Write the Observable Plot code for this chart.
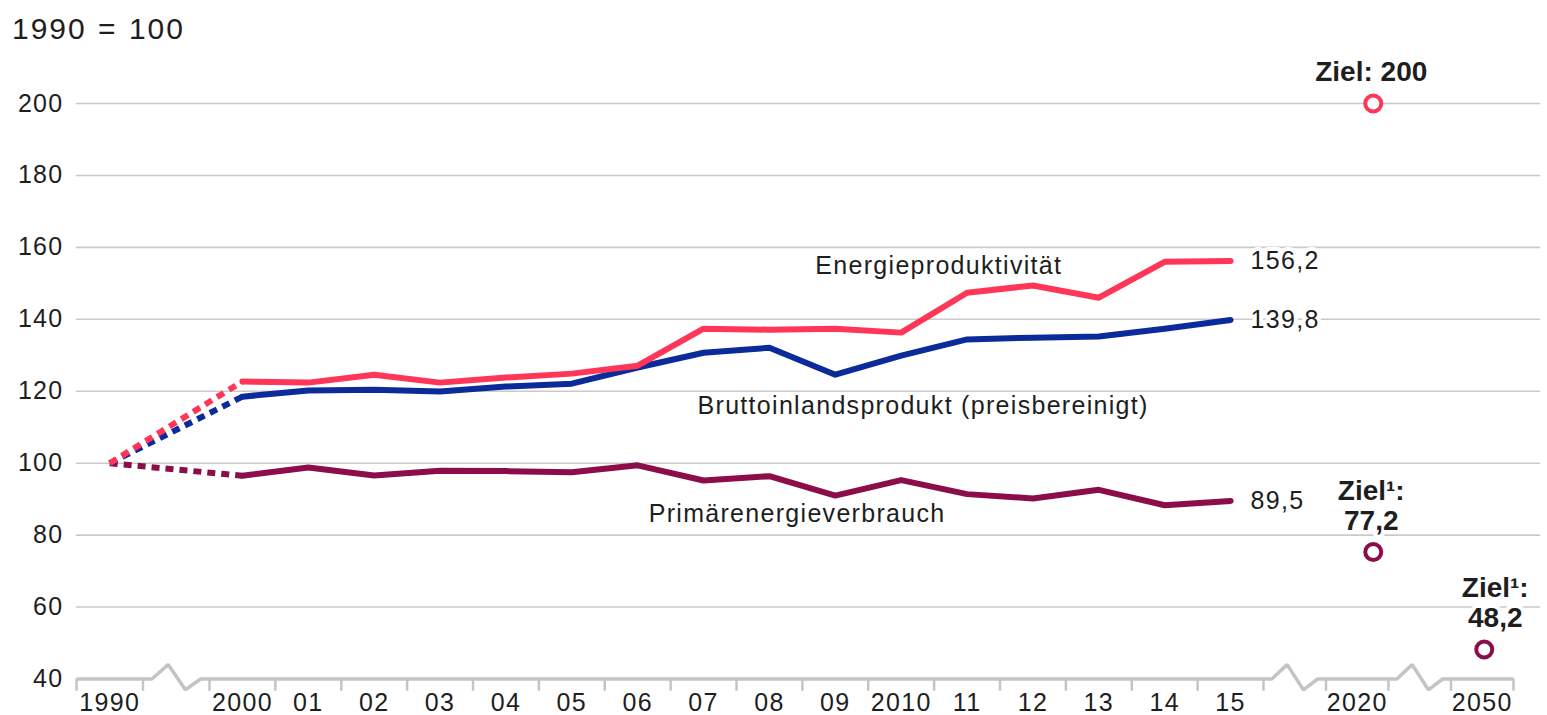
<!DOCTYPE html>
<html>
<head>
<meta charset="utf-8">
<script src="https://cdn.jsdelivr.net/npm/d3@7"></script>
<script src="https://cdn.jsdelivr.net/npm/@observablehq/plot@0.6"></script>
<style>
  body { margin: 0; background: #fff; font-family: "Liberation Sans", Arial, sans-serif; }
  #header { height: 48px; box-sizing: border-box; padding: 11px 0 0 12px; font-size: 30px; line-height: 36px; letter-spacing: 2px; word-spacing: 1px; color: #1e1e1e; }
  #chart svg text { letter-spacing: 1.3px; }
  #chart svg g[font-weight="bold"] text { letter-spacing: 0; }
</style>
</head>
<body>
<div id="header">1990 = 100</div>
<div id="chart"></div>
<script>
// x slots: categories incl. axis breaks
const slots = ["1990", "brk1", "2000", "01", "02", "03", "04", "05", "06", "07", "08", "09", "2010", "11", "12", "13", "14", "15", "brk2", "2020", "brk3", "2050"];
const breaks = ["brk1", "brk2", "brk3"];
const tickLabels = slots.filter(d => !breaks.includes(d));
const yTicks = [40, 60, 80, 100, 120, 140, 160, 180, 200];

// series (drawing order: bottom to top)
const seriesNames = ["Primärenergieverbrauch", "Bruttoinlandsprodukt (preisbereinigt)", "Energieproduktivität"];
const seriesColors = ["#8b0e4b", "#0c2b9b", "#ff3657"];
const baseYear = "1990";
const baseValue = 100;
const years = ["2000", "01", "02", "03", "04", "05", "06", "07", "08", "09", "2010", "11", "12", "13", "14", "15"];
const primaerenergie = [96.5, 98.8, 96.6, 97.9, 97.8, 97.5, 99.4, 95.2, 96.4, 91.0, 95.3, 91.4, 90.2, 92.6, 88.3, 89.5];
const bip = [118.5, 120.2, 120.4, 119.9, 121.3, 122.1, 126.6, 130.7, 132.1, 124.6, 129.9, 134.4, 134.9, 135.2, 137.4, 139.8];
const energieproduktivitaet = [122.7, 122.4, 124.6, 122.4, 123.8, 124.9, 127.1, 137.4, 137.1, 137.4, 136.3, 147.4, 149.4, 146.0, 156.0, 156.2];
const seriesValues = [primaerenergie, bip, energieproduktivitaet];

// targets
const targetSeries = ["Energieproduktivität", "Primärenergieverbrauch", "Primärenergieverbrauch"];
const targetCats = ["2020", "2020", "2050"];
const targetValues = [200, 75.3, 48.2];
const targetLines = [["Ziel: 200"], ["Ziel¹:", "77,2"], ["Ziel¹:", "48,2"]];

// in-chart series labels
const labelTexts = ["Primärenergieverbrauch", "Bruttoinlandsprodukt (preisbereinigt)", "Energieproduktivität"];
const labelCats = ["06", "07", "09"];
const labelValues = [86.0, 116.0, 154.7];
const labelShift = [11, -6, -20];

// ---- build tables ----
const slot = c => slots.indexOf(c);
const rows = [];
const dotRows = [];
seriesNames.forEach((s, i) => {
  years.forEach((c, j) => rows.push({series: s, cat: c, value: seriesValues[i][j]}));
  dotRows.push({series: s, cat: baseYear, value: baseValue});
  dotRows.push({series: s, cat: years[0], value: seriesValues[i][0]});
});
const endLabels = seriesNames.map((s, i) => {
  const v = seriesValues[i][seriesValues[i].length - 1];
  return {series: s, cat: years[years.length - 1], value: v, text: v.toFixed(1).replace(".", ",")};
});
const targets = targetSeries.map((s, i) => ({series: s, cat: targetCats[i], value: targetValues[i], lines: targetLines[i]}));
const targetText = [];
targets.forEach(t => t.lines.forEach((line, k) => targetText.push({cat: t.cat, value: t.value, text: line, k: t.lines.length - 1 - k})));
const seriesLabels = labelTexts.map((t, i) => ({text: t, cat: labelCats[i], value: labelValues[i], shift: labelShift[i]}));

// axis line with break symbols (shape offsets in slot / value units)
const zig = [[-0.367, 0], [-0.122, 4.0], [0.138, -3.0], [0.367, 0]];
const axisPts = [{x: -0.5, y: 40}];
breaks.forEach(b => zig.forEach(([ox, oy]) => axisPts.push({x: slot(b) + ox, y: 40 + oy})));
axisPts.push({x: slots.length - 0.5, y: 40});
const tickBounds = d3.range(-0.5, slots.length, 1);

const textColor = "#1e1e1e";
const gridColor = "#cacaca";

function targetTextMarks(cat, dx) {
  return [0, 1].map(k => Plot.text(targetText.filter(d => d.cat === cat && d.k === k), {
    x: d => slot(d.cat), y: "value", text: "text",
    dx, dy: k === 0 ? -31 : -61,
    fontWeight: "bold", fontSize: 28, fill: textColor,
    stroke: "white", strokeWidth: 8
  }));
}

const chart = Plot.plot({
  width: 1547,
  height: 667,
  marginLeft: 76,
  marginRight: 7,
  marginTop: 55,
  marginBottom: 36.5,
  x: {type: "linear", domain: [-0.5, 1.5, 17.5, 21.5, 21.91], range: [76, 209, 1263, 1513, 1540], axis: null},
  y: {domain: [40, 200], axis: null},
  color: {domain: seriesNames, range: seriesColors},
  style: {fontFamily: "'Liberation Sans', Arial, sans-serif", fontSize: "25px", color: textColor, background: "white"},
  marks: [
    Plot.ruleY(yTicks.filter(d => d > 40), {stroke: gridColor, strokeWidth: 1.6}),
    Plot.text(yTicks, {x: -0.5, y: d => d, text: d => String(d), textAnchor: "end", dx: -13, fill: textColor}),
    Plot.ruleX(tickBounds, {x: d => d, y1: 40, y2: 36.6, stroke: "#c4c4c4", strokeWidth: 2.5}),
    Plot.line(axisPts, {x: "x", y: "y", stroke: "#c4c4c4", strokeWidth: 3.5, strokeLinejoin: "miter", strokeLinecap: "butt"}),
    Plot.text(tickLabels, {x: slot, y: 40, text: d => d, dy: 24, fill: textColor}),
    Plot.line(dotRows, {x: d => slot(d.cat), y: "value", z: "series", stroke: "series", strokeWidth: 6, strokeDasharray: "8,6", strokeLinecap: "butt"}),
    Plot.line(rows, {x: d => slot(d.cat), y: "value", z: "series", stroke: "series", strokeWidth: 6, strokeLinecap: "round", strokeLinejoin: "round"}),
    Plot.text(endLabels, {x: d => slot(d.cat), y: "value", text: "text", textAnchor: "start", dx: 20, fill: textColor, stroke: "white", strokeWidth: 8}),
    ...seriesLabels.map(l => Plot.text([l], {x: d => slot(d.cat), y: "value", text: "text", textAnchor: "start", dx: l.shift, fill: textColor})),
    Plot.dot(targets.filter(d => d.cat === "2020"), {x: d => slot(d.cat), y: "value", r: 8, stroke: "series", strokeWidth: 4, fill: "white", dx: 16}),
    Plot.dot(targets.filter(d => d.cat === "2050"), {x: d => slot(d.cat), y: "value", r: 8, stroke: "series", strokeWidth: 4, fill: "white", dx: 2}),
    ...targetTextMarks("2020", 14),
    ...targetTextMarks("2050", 13)
  ]
});
document.getElementById("chart").appendChild(chart);
</script>
</body>
</html>
